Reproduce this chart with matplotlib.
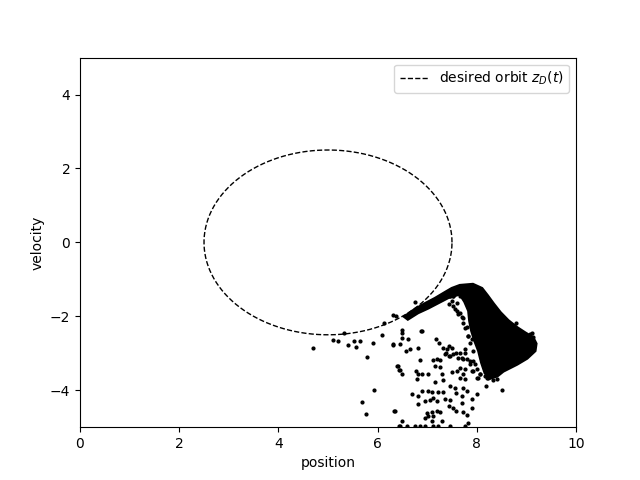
import numpy as np
import matplotlib
matplotlib.use("Agg")
import matplotlib.pyplot as plt

# desired orbit: centre and radius
orbit_center = (5.0, 0.0)
orbit_radius = 2.5

# dense region of the scatter (outline)
dense_x = [6.55, 6.75, 6.96, 7.16, 7.36, 7.50, 7.66, 7.92, 8.10, 8.21, 8.33, 8.47, 8.63,
           8.81, 8.97, 9.13, 9.19, 9.17, 9.01, 8.81, 8.53, 8.41, 8.27, 8.17, 8.10,
           8.04, 7.96, 7.90, 7.86, 7.84, 7.76, 7.66, 7.42, 7.22, 7.02, 6.81, 6.61]
dense_y = [-2.01, -1.82, -1.66, -1.52, -1.36, -1.25, -1.17, -1.14, -1.25, -1.44, -1.66, -1.90, -2.12,
           -2.31, -2.45, -2.58, -2.74, -2.93, -3.13, -3.29, -3.48, -3.61, -3.67, -3.53, -3.25,
           -2.93, -2.65, -2.39, -2.12, -1.85, -1.60, -1.39, -1.49, -1.63, -1.77, -1.90, -2.07]

# individual points
pts_x = [4.69, 5.11, 5.21, 5.33, 5.41, 5.53, 5.56, 5.65, 5.79, 5.91, 6.08, 6.13, 6.32, 6.37,
         6.32, 6.40, 6.43, 5.93, 5.69, 5.77, 6.34, 6.43,
         6.87, 6.49, 6.50, 6.62, 6.32, 6.45, 6.57, 6.65, 6.82, 7.17, 7.24, 7.32, 7.43, 7.37,
         7.43, 7.63, 6.85, 7.12, 7.19, 7.26, 6.41, 6.45, 6.50, 6.77, 6.82, 6.89, 7.01, 7.16,
         7.26, 7.30, 7.49, 7.32, 7.16, 6.79, 7.66, 7.76, 7.46, 7.56, 7.73, 7.80, 6.89, 7.02,
         7.09, 7.22, 7.32, 7.59, 6.69, 6.82, 8.00, 6.96, 7.06, 7.12, 7.19, 7.36, 7.46, 7.70,
         7.70, 7.90, 6.82, 7.43, 7.53, 7.59, 7.73, 7.80, 7.90, 6.35, 6.99, 7.09, 7.19, 7.26,
         6.96, 7.02, 7.12, 7.09, 7.29, 7.83, 6.49, 6.45, 6.59, 6.75, 6.85, 6.96, 7.12, 7.22,
         7.46, 7.76,
         7.39, 7.36, 7.46, 7.59, 7.70, 7.76, 7.80, 7.86, 7.93, 8.00, 7.90, 8.06, 8.23, 7.66,
         7.73, 8.00, 8.17, 8.19, 8.50,
         7.43, 7.53, 7.49, 7.63, 7.70, 7.66, 7.46, 7.53, 7.56, 7.60, 6.89, 6.75, 6.50, 7.73,
         7.80, 7.83, 7.90, 8.80, 9.11, 9.07, 9.14, 9.04,
         7.52, 7.60, 7.66, 7.72, 7.76, 7.82, 7.86, 7.76, 7.92, 7.66, 7.72, 7.86, 7.96, 7.76,
         7.92, 8.06, 8.02, 8.21, 7.60, 7.50, 7.52, 8.33, 8.41]
pts_y = [-2.86, -2.64, -2.68, -2.46, -2.78, -2.68, -2.83, -2.68, -3.10, -2.73, -2.51, -2.17, -1.96, -1.98,
         -2.75, -3.34, -3.46, -3.98, -4.32, -4.65, -4.57, -4.97,
         -2.39, -2.44, -2.59, -2.62, -2.77, -2.75, -2.93, -2.89, -2.86, -2.62, -2.73, -2.85, -2.80, -2.98,
         -3.07, -3.12, -3.19, -3.19, -3.16, -3.19, -3.34, -3.46, -3.55, -3.48, -3.55, -3.55, -3.55, -3.34,
         -3.37, -3.57, -3.52, -3.73, -3.77, -3.70, -3.66, -3.70, -3.89, -3.93, -3.93, -4.02, -4.02, -4.02,
         -4.04, -4.05, -4.04, -4.07, -4.10, -4.16, -4.10, -4.29, -4.27, -4.22, -4.29, -4.25, -4.27, -4.16,
         -4.34, -4.25, -4.38, -4.43, -4.49, -4.57, -4.58, -4.66, -4.49, -4.57, -4.61, -4.58, -4.57, -4.58,
         -4.75, -4.70, -4.70, -4.82, -4.84, -4.88, -4.84, -4.97, -4.97, -4.97, -4.97, -4.97, -4.97, -4.97,
         -4.97, -4.97,
         -2.89, -3.02, -3.07, -2.98, -3.12, -2.98, -3.16, -3.30, -3.21, -3.43, -3.48, -3.57, -3.66, -3.39,
         -3.57, -3.66, -3.61, -3.89, -3.98,
         -1.67, -1.71, -1.58, -1.94, -2.03, -1.44, -1.44, -1.44, -1.80, -1.85, -2.39, -1.62, -2.37, -2.17,
         -2.30, -2.53, -2.62, -2.17, -2.44, -2.48, -2.57, -2.62,
         -1.44, -1.63, -1.90, -2.04, -2.31, -2.53, -2.72, -2.88, -2.93, -2.99, -3.15, -3.21, -3.29, -3.42,
         -3.48, -3.56, -3.67, -3.67, -3.48, -2.85, -3.02, -3.72, -3.70]

fig, ax = plt.subplots(figsize=(6.4, 4.8), dpi=100)

theta = np.linspace(0, 2 * np.pi, 400)
ax.plot(orbit_center[0] + orbit_radius * np.cos(theta),
        orbit_center[1] + orbit_radius * np.sin(theta),
        'k--', linewidth=1, label=r'desired orbit $z_D(t)$')

ax.fill(dense_x, dense_y, color='k', linewidth=2.5, edgecolor='k', zorder=3)
ax.scatter(pts_x, pts_y, s=4, color='k', zorder=3)

ax.set_xlim(0, 10)
ax.set_ylim(-5, 5)
ax.set_xlabel('position')
ax.set_ylabel('velocity')
ax.legend(loc='upper right')

fig.savefig('out.png', dpi=100)
